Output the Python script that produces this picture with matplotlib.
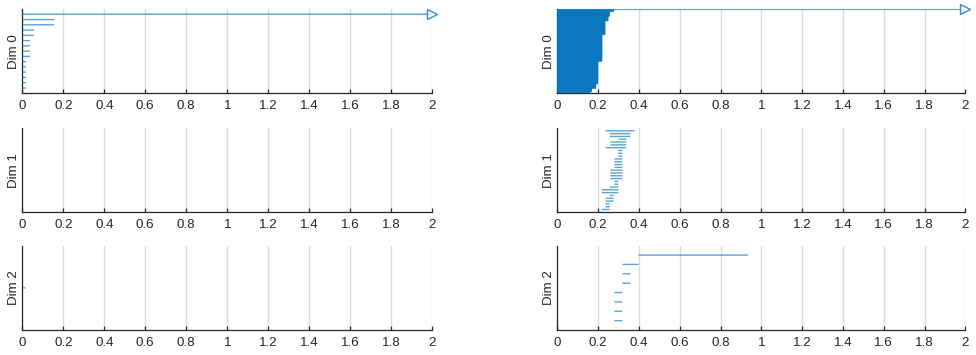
import numpy as np
import matplotlib
matplotlib.use("Agg")
import matplotlib.pyplot as plt
from matplotlib.collections import LineCollection

plt.rcParams['font.family'] = ['Liberation Sans', 'DejaVu Sans']

# barcode data, bars listed from top to bottom (np.inf = infinite bar)
left_dim0_birth = [0.0] * 15
left_dim0_death = [np.inf, 0.156, 0.156, 0.057, 0.057, 0.037, 0.037, 0.037, 0.037,
                   0.018, 0.018, 0.018, 0.018, 0.018, 0.018]

left_dim1_birth = []
left_dim1_death = []

left_dim2_birth = [0.0]
left_dim2_death = [0.016]

# right dim 0: one infinite bar, then groups of bars sharing a death value
right_dim0_levels = [0.277, 0.258, 0.25, 0.235, 0.22, 0.2, 0.19, 0.17, 0.16]
right_dim0_counts = [5, 11, 11, 33, 64, 54, 11, 8, 3]
right_dim0_death = [np.inf] + list(np.repeat(right_dim0_levels, right_dim0_counts))
right_dim0_birth = [0.0] * len(right_dim0_death)

right_dim1_birth = [0.237, 0.257, 0.257, 0.301, 0.260, 0.260, 0.237, 0.299, 0.299, 0.299,
                    0.280, 0.280, 0.280, 0.280, 0.260, 0.260, 0.260, 0.260, 0.280, 0.280,
                    0.257, 0.219, 0.219, 0.257, 0.237, 0.237, 0.237, 0.237, 0.219]
right_dim1_death = [0.379, 0.358, 0.358, 0.338, 0.338, 0.338, 0.338, 0.319, 0.319, 0.319,
                    0.319, 0.319, 0.319, 0.319, 0.319, 0.319, 0.319, 0.319, 0.299, 0.299,
                    0.299, 0.299, 0.299, 0.276, 0.276, 0.276, 0.257, 0.257, 0.257]

right_dim2_birth = [0.398, 0.319, 0.319, 0.319, 0.280, 0.280, 0.280, 0.280]
right_dim2_death = [0.935, 0.398, 0.358, 0.358, 0.319, 0.319, 0.319, 0.319]

x_max = 2.0
x_ticks = [0, 0.2, 0.4, 0.6, 0.8, 1, 1.2, 1.4, 1.6, 1.8, 2]
x_ticklabels = ['0', '0.2', '0.4', '0.6', '0.8', '1', '1.2', '1.4', '1.6', '1.8', '2']

BLUE = '#0072BD'
GRID = '#dcdcdc'
DARK = '#262626'
FS = 9.6


def barcode(ax, births, deaths, label):
    n = len(births)
    segs = []
    for i, (b, d) in enumerate(zip(births, deaths)):
        y = n - i
        end = x_max if np.isinf(d) else d
        segs.append([(b, y), (end, y)])
        if np.isinf(d):
            ax.plot([x_max], [y], marker='>', ms=7, mfc='white', mec=BLUE,
                    mew=1.0, alpha=0.8, clip_on=False, zorder=4)
    if segs:
        lc = LineCollection(segs, colors=BLUE, linewidths=1.0, alpha=0.65,
                            capstyle='butt', snap=False, zorder=3)
        ax.add_collection(lc)
    ax.set_xlim(0, x_max)
    ax.set_ylim(0, n + 1)
    ax.set_xticks(x_ticks)
    ax.set_xticklabels(x_ticklabels)
    ax.set_yticks([])
    ax.grid(axis='x', color=GRID, lw=1.0, zorder=0)
    ax.set_axisbelow(True)
    for s in ['top', 'right']:
        ax.spines[s].set_visible(False)
    for s in ['left', 'bottom']:
        ax.spines[s].set_color(DARK)
        ax.spines[s].set_linewidth(0.9)
    ax.tick_params(axis='x', direction='in', length=3, width=0.9, colors=DARK,
                   labelsize=FS, pad=5)
    ax.set_ylabel(label, fontsize=FS, color=DARK, labelpad=2)


fig = plt.figure(figsize=(9.76, 3.55), dpi=100)

lefts = [22.3 / 976, 557.3 / 976]
widths = [410 / 976, 408 / 976]
bottoms = [1 - 93.3 / 355, 1 - 212.3 / 355, 1 - 330 / 355]
height = 84.3 / 355

panels = [
    [(left_dim0_birth, left_dim0_death), (left_dim1_birth, left_dim1_death),
     (left_dim2_birth, left_dim2_death)],
    [(right_dim0_birth, right_dim0_death), (right_dim1_birth, right_dim1_death),
     (right_dim2_birth, right_dim2_death)],
]

for c in range(2):
    for r in range(3):
        ax = fig.add_axes([lefts[c], bottoms[r], widths[c], height])
        births, deaths = panels[c][r]
        barcode(ax, births, deaths, 'Dim %d' % r)

fig.savefig('out.png', dpi=100)
